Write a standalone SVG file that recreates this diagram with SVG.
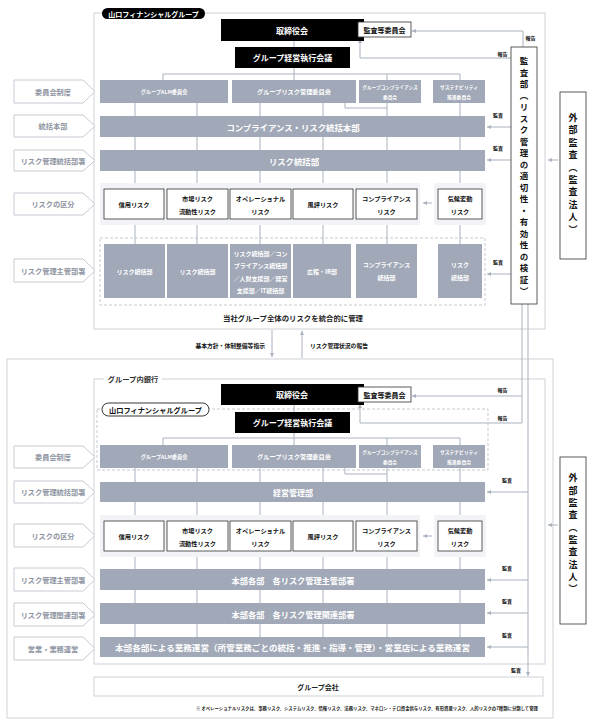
<svg xmlns="http://www.w3.org/2000/svg" width="593" height="725" viewBox="0 0 593 725">
<defs>
<style>
text{font-family:"Noto Sans CJK JP","Noto Sans CJK SC",sans-serif;font-weight:700;dominant-baseline:central;text-anchor:middle}
.frame{fill:none;stroke:#cdd1d9;stroke-width:1}
.dash{fill:none;stroke:#c5c9d2;stroke-width:1;stroke-dasharray:3 2}
.bar{fill:#a1a8b7}
.blk{fill:#000}
.wbox{fill:#fff;stroke:#333;stroke-width:0.8}
.panel{fill:#f2f3f7}
.conn{fill:none;stroke:#aab1bf;stroke-width:1}
.arr{fill:none;stroke:#aab1bf;stroke-width:1;marker-end:url(#ah)}
.lbl{fill:#fff;stroke:#c6cad3;stroke-width:1}
.lt{fill:#8d93a1;font-size:7.2px}
.wt{fill:#fff}
.bt{fill:#111}
.sm{font-size:5px;fill:#111}
.vt{writing-mode:vertical-rl;text-anchor:start;fill:#111}
</style>
<marker id="ah" viewBox="0 0 6 6" refX="6" refY="3" markerWidth="4" markerHeight="4" orient="auto"><path d="M0,0 L6,3 L0,6 z" fill="#aab1bf"/></marker>
</defs>

<!-- ===== frames ===== -->
<g id="frames">
<rect class="frame" x="94" y="13" width="451" height="316"/>
<rect class="frame" x="7" y="359" width="546" height="359"/>
<rect class="frame" x="94" y="379" width="451" height="285"/>
<rect class="dash" x="100" y="238" width="385" height="67"/>
<rect class="dash" x="97" y="409" width="391" height="61"/>
<rect class="panel" x="100" y="183" width="320" height="42"/>
<rect class="panel" x="434" y="183" width="52" height="42"/>
<rect class="panel" x="100" y="515" width="320" height="42"/>
<rect class="panel" x="434" y="515" width="52" height="42"/>
</g>

<!-- ===== connectors ===== -->
<g id="connectors">
<path class="conn" d="M294,41V47M294,68V80M163,74H460M163,74V80M387,74V80M460,74V80"/>
<path class="conn" d="M135,103V116M197,103V116M260,103V116M323,103V116M460,103V116M345,103V108H387M387,103V116"/>
<path class="conn" d="M135,137V150M197,137V150M260,137V150M323,137V150M387,137V150M460,137V150"/>
<path class="conn" d="M135,171V183M197,171V183M260,171V183M323,171V183M387,171V183M460,171V183"/>
<path class="conn" d="M135,225V244M197,225V244M260,225V244M323,225V244M387,225V244M460,225V244"/>
<path class="conn" d="M294,405V412M294,433V445M163,438H460M163,438V445M387,438V445M460,438V445"/>
<path class="conn" d="M135,468V482M197,468V482M260,468V482M323,468V482M460,468V482M345,468V474H387M387,468V482"/>
<path class="conn" d="M135,502V515M197,502V515M260,502V515M323,502V515M387,502V515M460,502V515"/>
<path class="conn" d="M135,557V569M197,557V569M260,557V569M323,557V569M387,557V569M460,557V569"/>
<path class="conn" d="M135,590V603M197,590V603M260,590V603M323,590V603M387,590V603M460,590V603"/>
<path class="conn" d="M135,624V637M197,624V637M260,624V637M323,624V637M387,624V637M460,624V637"/>
<!-- reports -->
<path class="arr" d="M523,47V31H412"/>
<path class="arr" d="M511,58H360V39"/>
<path class="conn" d="M522,304V423"/>
<path class="arr" d="M522,396H412"/>
<path class="arr" d="M522,423H360V404"/>
<path class="arr" d="M528,304V676"/>
<!-- audits -->
<path class="arr" d="M511,127H487"/>
<path class="arr" d="M511,160H487"/>
<path class="arr" d="M511,274H487"/>
<path class="arr" d="M528,492H487"/>
<path class="arr" d="M528,580H487"/>
<path class="arr" d="M528,613H487"/>
<path class="arr" d="M528,647H487"/>
<path class="arr" d="M558,160H548"/>
<path class="arr" d="M558,525H548"/>
<path class="arr" d="M432,203H423"/>
<path class="arr" d="M432,536H423"/>
<path class="arr" d="M272,330V357"/>
<path class="arr" d="M302,358V331"/>
</g>

<!-- connector labels -->
<g id="connector-labels">
<text class="sm" x="530.5" y="37">報告</text>
<text class="sm" x="502.5" y="53">報告</text>
<text class="sm" x="498" y="114">監査</text>
<text class="sm" x="498" y="147">監査</text>
<text class="sm" x="498" y="261">監査</text>
<text class="sm" x="502.5" y="389">報告</text>
<text class="sm" x="502.5" y="417">報告</text>
<text class="sm" x="507" y="479">監査</text>
<text class="sm" x="507" y="567">監査</text>
<text class="sm" x="507" y="600">監査</text>
<text class="sm" x="507" y="634">監査</text>
<text class="sm" x="516" y="669">監査</text>
<text x="265" y="345" style="text-anchor:end;font-size:5.8px;fill:#111">基本方針・体制整備等指示</text>
<text x="310" y="345" style="text-anchor:start;font-size:5.8px;fill:#111">リスク管理状況の報告</text>
</g>

<!-- ===== left labels ===== -->
<g id="label-top-1"><path class="lbl" d="M14,80H83L95,91.5L83,103H14Z"/><text class="lt" x="53" y="91.5">委員会制度</text></g>
<g id="label-top-2"><path class="lbl" d="M14,115H83L95,126L83,137H14Z"/><text class="lt" x="53" y="126">統括本部</text></g>
<g id="label-top-3"><path class="lbl" d="M14,150H83L95,160.5L83,171H14Z"/><text class="lt" x="53" y="160.5">リスク管理統括部署</text></g>
<g id="label-top-4"><path class="lbl" d="M14,193H83L95,204L83,215H14Z"/><text class="lt" x="53" y="204">リスクの区分</text></g>
<g id="label-top-5"><path class="lbl" d="M14,259H83L95,270.5L83,282H14Z"/><text class="lt" x="53" y="270.5">リスク管理主管部署</text></g>
<g id="label-bot-1"><path class="lbl" d="M14,446H83L95,457L83,468H14Z"/><text class="lt" x="53" y="457">委員会制度</text></g>
<g id="label-bot-2"><path class="lbl" d="M14,481H83L95,492L83,503H14Z"/><text class="lt" x="53" y="492">リスク管理統括部署</text></g>
<g id="label-bot-3"><path class="lbl" d="M14,524H83L95,535.5L83,547H14Z"/><text class="lt" x="53" y="535.5">リスクの区分</text></g>
<g id="label-bot-4"><path class="lbl" d="M14,568H83L95,579.5L83,591H14Z"/><text class="lt" x="53" y="579.5">リスク管理主管部署</text></g>
<g id="label-bot-5"><path class="lbl" d="M14,603H83L95,614.5L83,626H14Z"/><text class="lt" x="53" y="614.5">リスク管理関連部署</text></g>
<g id="label-bot-6"><path class="lbl" d="M14,637H83L95,648.5L83,660H14Z"/><text class="lt" x="53" y="648.5">営業・業務運営</text></g>

<!-- ===== top section nodes ===== -->
<g id="pill-top"><rect x="102" y="8" width="103" height="11" rx="5.5" fill="#000"/><text class="wt" x="153.5" y="13.5" style="font-size:7px">山口フィナンシャルグループ</text></g>
<g id="board-top"><rect class="blk" x="221" y="19" width="143" height="22"/><text class="wt" x="292" y="30" style="font-size:8px">取締役会</text></g>
<g id="auditcomm-top"><rect class="wbox" x="358" y="22" width="53" height="15"/><text class="bt" x="384.5" y="29.5" style="font-size:7px">監査等委員会</text></g>
<g id="exec-top"><rect class="blk" x="235" y="47" width="115" height="21"/><text class="wt" x="292.5" y="57.5" style="font-size:8px">グループ経営執行会議</text></g>
<g id="alm-top"><rect class="bar" x="100" y="80" width="128" height="23"/><text class="wt" x="164" y="91.5" style="font-size:5.2px">グループALM委員会</text></g>
<g id="riskcomm-top"><rect class="bar" x="232" y="80" width="124" height="23"/><text class="wt" x="294" y="91.5" style="font-size:6.2px">グループリスク管理委員会</text></g>
<g id="compcomm-top"><rect class="bar" x="359" y="80" width="62" height="23"/><text class="wt" x="390" y="86.5" style="font-size:4.7px">グループコンプライアンス</text><text class="wt" x="390" y="96.5" style="font-size:4.7px">委員会</text></g>
<g id="sustcomm-top"><rect class="bar" x="433" y="80" width="52" height="23"/><text class="wt" x="459" y="86.5" style="font-size:4.8px">サステナビリティ</text><text class="wt" x="459" y="96.5" style="font-size:4.8px">推進委員会</text></g>
<g id="hq-top"><rect class="bar" x="100" y="116" width="385" height="21"/><text class="wt" x="293" y="126.5" style="font-size:8.4px">コンプライアンス・リスク統括本部</text></g>
<g id="riskdiv-top"><rect class="bar" x="100" y="150" width="385" height="21"/><text class="wt" x="294" y="160.5" style="font-size:8.4px">リスク統括部</text></g>

<g id="risk-credit-top"><rect class="wbox" x="104" y="189" width="60" height="30"/><text class="bt" x="134" y="204" style="font-size:6.2px">信用リスク</text></g>
<g id="risk-market-top"><rect class="wbox" x="167" y="189" width="61" height="30"/><text class="bt" x="197.5" y="198" style="font-size:6.2px">市場リスク</text><text class="bt" x="197.5" y="211" style="font-size:6.2px">流動性リスク</text></g>
<g id="risk-op-top"><rect class="wbox" x="230" y="189" width="61" height="30"/><text class="bt" x="260.5" y="198" style="font-size:6.2px">オペレーショナル</text><text class="bt" x="260.5" y="211" style="font-size:6.2px">リスク</text></g>
<g id="risk-rep-top"><rect class="wbox" x="293" y="189" width="60" height="30"/><text class="bt" x="323" y="204" style="font-size:6.2px">風評リスク</text></g>
<g id="risk-comp-top"><rect class="wbox" x="356" y="189" width="61" height="30"/><text class="bt" x="386.5" y="198" style="font-size:6.2px">コンプライアンス</text><text class="bt" x="386.5" y="211" style="font-size:6.2px">リスク</text></g>
<g id="risk-clim-top"><rect class="wbox" x="438" y="189" width="44" height="30"/><text class="bt" x="460" y="198" style="font-size:6.2px">気候変動</text><text class="bt" x="460" y="211" style="font-size:6.2px">リスク</text></g>

<g id="dept1-top"><rect class="bar" x="104" y="244" width="61" height="54"/><text class="wt" x="134.5" y="271" style="font-size:6px">リスク統括部</text></g>
<g id="dept2-top"><rect class="bar" x="167" y="244" width="61" height="54"/><text class="wt" x="197.5" y="271" style="font-size:6px">リスク統括部</text></g>
<g id="dept3-top"><rect class="bar" x="230" y="244" width="61" height="54"/><text class="wt" x="260.5" y="253" style="font-size:6px">リスク統括部／コン</text><text class="wt" x="260.5" y="265.5" style="font-size:6px">プライアンス統括部</text><text class="wt" x="260.5" y="278" style="font-size:6px">／人財支援部／経営</text><text class="wt" x="260.5" y="290" style="font-size:6px">支援部／IT統括部</text></g>
<g id="dept4-top"><rect class="bar" x="293" y="244" width="58" height="54"/><text class="wt" x="322" y="271" style="font-size:6px">広報・IR部</text></g>
<g id="dept5-top"><rect class="bar" x="356" y="244" width="61" height="54"/><text class="wt" x="386.5" y="264.5" style="font-size:6px">コンプライアンス</text><text class="wt" x="386.5" y="277.5" style="font-size:6px">統括部</text></g>
<g id="dept6-top"><rect class="bar" x="438" y="244" width="44" height="54"/><text class="wt" x="460" y="264.5" style="font-size:6px">リスク</text><text class="wt" x="460" y="277.5" style="font-size:6px">統括部</text></g>
<text class="bt" x="293" y="317" style="font-size:7.4px;fill:#222">当社グループ全体のリスクを統合的に管理</text>

<g id="auditdept"><rect class="wbox" x="511" y="47" width="26" height="257"/><text class="vt" x="524" y="57" style="font-size:8.5px" letter-spacing="3">監査部（リスク管理の適切性・有効性の検証）</text></g>
<g id="extaudit-top"><rect class="wbox" x="560" y="92" width="26" height="167"/><text class="vt" x="573" y="113" style="font-size:9px" letter-spacing="3.4">外部監査（監査法人）</text></g>

<!-- ===== bottom section nodes ===== -->
<g id="bank-label"><rect x="104" y="374" width="58" height="10" fill="#fff"/><text x="133" y="379" style="font-size:7.3px;fill:#333">グループ内銀行</text></g>
<g id="board-bot"><rect class="blk" x="221" y="384" width="143" height="21"/><text class="wt" x="292" y="394.5" style="font-size:8px">取締役会</text></g>
<g id="auditcomm-bot"><rect class="wbox" x="358" y="387" width="53" height="15"/><text class="bt" x="384.5" y="394.5" style="font-size:7px">監査等委員会</text></g>
<g id="pill-bot"><rect x="102" y="403" width="107" height="13" rx="6.5" fill="#fff" stroke="#222" stroke-width="0.9"/><text class="bt" x="155.5" y="409.5" style="font-size:7.2px">山口フィナンシャルグループ</text></g>
<g id="exec-bot"><rect class="blk" x="235" y="412" width="115" height="21"/><text class="wt" x="292.5" y="422.5" style="font-size:8px">グループ経営執行会議</text></g>
<g id="alm-bot"><rect class="bar" x="100" y="445" width="128" height="23"/><text class="wt" x="164" y="456.5" style="font-size:5.2px">グループALM委員会</text></g>
<g id="riskcomm-bot"><rect class="bar" x="232" y="445" width="124" height="23"/><text class="wt" x="294" y="456.5" style="font-size:6.2px">グループリスク管理委員会</text></g>
<g id="compcomm-bot"><rect class="bar" x="359" y="445" width="62" height="23"/><text class="wt" x="390" y="451.5" style="font-size:4.7px">グループコンプライアンス</text><text class="wt" x="390" y="461.5" style="font-size:4.7px">委員会</text></g>
<g id="sustcomm-bot"><rect class="bar" x="433" y="445" width="52" height="23"/><text class="wt" x="459" y="451.5" style="font-size:4.8px">サステナビリティ</text><text class="wt" x="459" y="461.5" style="font-size:4.8px">推進委員会</text></g>
<g id="mgmt-bot"><rect class="bar" x="100" y="482" width="385" height="20"/><text class="wt" x="293" y="492" style="font-size:8px">経営管理部</text></g>

<g id="risk-credit-bot"><rect class="wbox" x="104" y="521" width="60" height="30"/><text class="bt" x="134" y="536" style="font-size:6.2px">信用リスク</text></g>
<g id="risk-market-bot"><rect class="wbox" x="167" y="521" width="61" height="30"/><text class="bt" x="197.5" y="530" style="font-size:6.2px">市場リスク</text><text class="bt" x="197.5" y="543" style="font-size:6.2px">流動性リスク</text></g>
<g id="risk-op-bot"><rect class="wbox" x="230" y="521" width="61" height="30"/><text class="bt" x="260.5" y="530" style="font-size:6.2px">オペレーショナル</text><text class="bt" x="260.5" y="543" style="font-size:6.2px">リスク</text></g>
<g id="risk-rep-bot"><rect class="wbox" x="293" y="521" width="60" height="30"/><text class="bt" x="323" y="536" style="font-size:6.2px">風評リスク</text></g>
<g id="risk-comp-bot"><rect class="wbox" x="356" y="521" width="61" height="30"/><text class="bt" x="386.5" y="530" style="font-size:6.2px">コンプライアンス</text><text class="bt" x="386.5" y="543" style="font-size:6.2px">リスク</text></g>
<g id="risk-clim-bot"><rect class="wbox" x="438" y="521" width="44" height="30"/><text class="bt" x="460" y="530" style="font-size:6.2px">気候変動</text><text class="bt" x="460" y="543" style="font-size:6.2px">リスク</text></g>

<g id="main-bot"><rect class="bar" x="100" y="569" width="385" height="21"/><text class="wt" x="293" y="579.5" style="font-size:8.2px">本部各部　各リスク管理主管部署</text></g>
<g id="related-bot"><rect class="bar" x="100" y="603" width="385" height="21"/><text class="wt" x="293" y="613.5" style="font-size:8.2px">本部各部　各リスク管理関連部署</text></g>
<g id="ops-bot"><rect class="bar" x="100" y="637" width="385" height="20"/><text class="wt" x="292.5" y="647" style="font-size:8.2px" textLength="355" lengthAdjust="spacingAndGlyphs">本部各部による業務運営（所管業務ごとの統括・推進・指導・管理）・営業店による業務運営</text></g>

<g id="extaudit-bot"><rect class="wbox" x="560" y="457" width="26" height="167"/><text class="vt" x="573" y="473.5" style="font-size:9px" letter-spacing="3.3">外部監査（監査法人）</text></g>
<g id="groupco"><rect x="94" y="677" width="449" height="19" fill="#fff" stroke="#cdd1d9"/><text class="bt" x="318" y="686.5" style="font-size:7px;fill:#222">グループ会社</text></g>
<text x="196" y="708" style="text-anchor:start;font-size:4.3px;fill:#222" textLength="342" lengthAdjust="spacingAndGlyphs">※ オペレーショナルリスクは、事務リスク、システムリスク、情報リスク、法務リスク、マネロン・テロ資金供与リスク、有形資産リスク、人的リスクの7種類に分類して管理</text>
</svg>
